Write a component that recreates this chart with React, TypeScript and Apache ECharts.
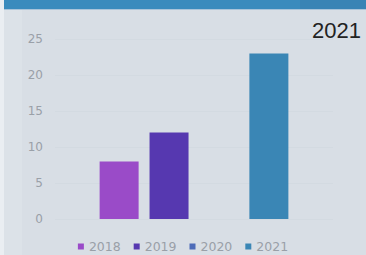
import React, { useEffect, useRef } from "react";
import * as echarts from "echarts";

const categories = ["2021"];
const seriesNames = ["2018", "2019", "2020", "2021"];
const seriesValues: (number | null)[] = [8, 12, null, 23];
const seriesColors = ["#9a4bc8", "#5638b0", "#4d6bb8", "#3a86b5"];
const yTicks = { min: 0, max: 25, interval: 5 };

export default function App() {
  const ref = useRef<HTMLDivElement>(null);
  useEffect(() => {
    const chart = echarts.init(ref.current!, null, { renderer: "svg" });
    chart.setOption({
      animation: false,
      backgroundColor: "#d8dee5",
      graphic: [
        { type: "rect", left: 0, top: 0, shape: { width: 22, height: 255 }, style: { fill: "#dce2e8" }, z: -1 },
        { type: "rect", left: 0, top: 0, shape: { width: 366, height: 9 }, style: { fill: "#3a8bbd" } },
        { type: "rect", left: 300, top: 0, shape: { width: 66, height: 9 }, style: { fill: "#3984b5" } },
        { type: "rect", left: 0, top: 9, shape: { width: 366, height: 1 }, style: { fill: "#a9c4da" } },
        { type: "rect", left: 0, top: 0, shape: { width: 4, height: 255 }, style: { fill: "#eaeef2" } },
      ],
      title: {
        text: "2021",
        right: 0,
        top: 14,
        textStyle: { fontFamily: "Liberation Sans", fontSize: 22, fontWeight: "normal", color: "#222" },
      },
      legend: {
        top: 240,
        left: "center",
        padding: 0,
        icon: "rect",
        itemWidth: 6,
        itemHeight: 6,
        itemGap: 13,
        textStyle: { color: "#9aa0a8", fontSize: 12.5, fontFamily: "DejaVu Sans" },
        data: seriesNames,
      },
      grid: { left: 55, right: 33, top: 39, bottom: 36 },
      xAxis: {
        type: "category",
        data: categories,
        axisLine: { show: false },
        axisTick: { show: false },
        axisLabel: { show: false },
      },
      yAxis: {
        type: "value",
        min: yTicks.min,
        max: yTicks.max,
        interval: yTicks.interval,
        axisLabel: { color: "#9aa0a8", fontSize: 12, fontFamily: "DejaVu Sans", margin: 12 },
        splitLine: { lineStyle: { color: "#d3dae1" } },
        axisLine: { show: false },
        axisTick: { show: false },
      },
      series: seriesNames.map((name, i) => ({
        name,
        type: "bar",
        barWidth: 39,
        barGap: "28%",
        itemStyle: { color: seriesColors[i] },
        data: [seriesValues[i]],
      })),
    });
    return () => chart.dispose();
  }, []);
  return <div ref={ref} style={{ position: "fixed", left: 0, top: 0, width: 366, height: 255 }} />;
}
